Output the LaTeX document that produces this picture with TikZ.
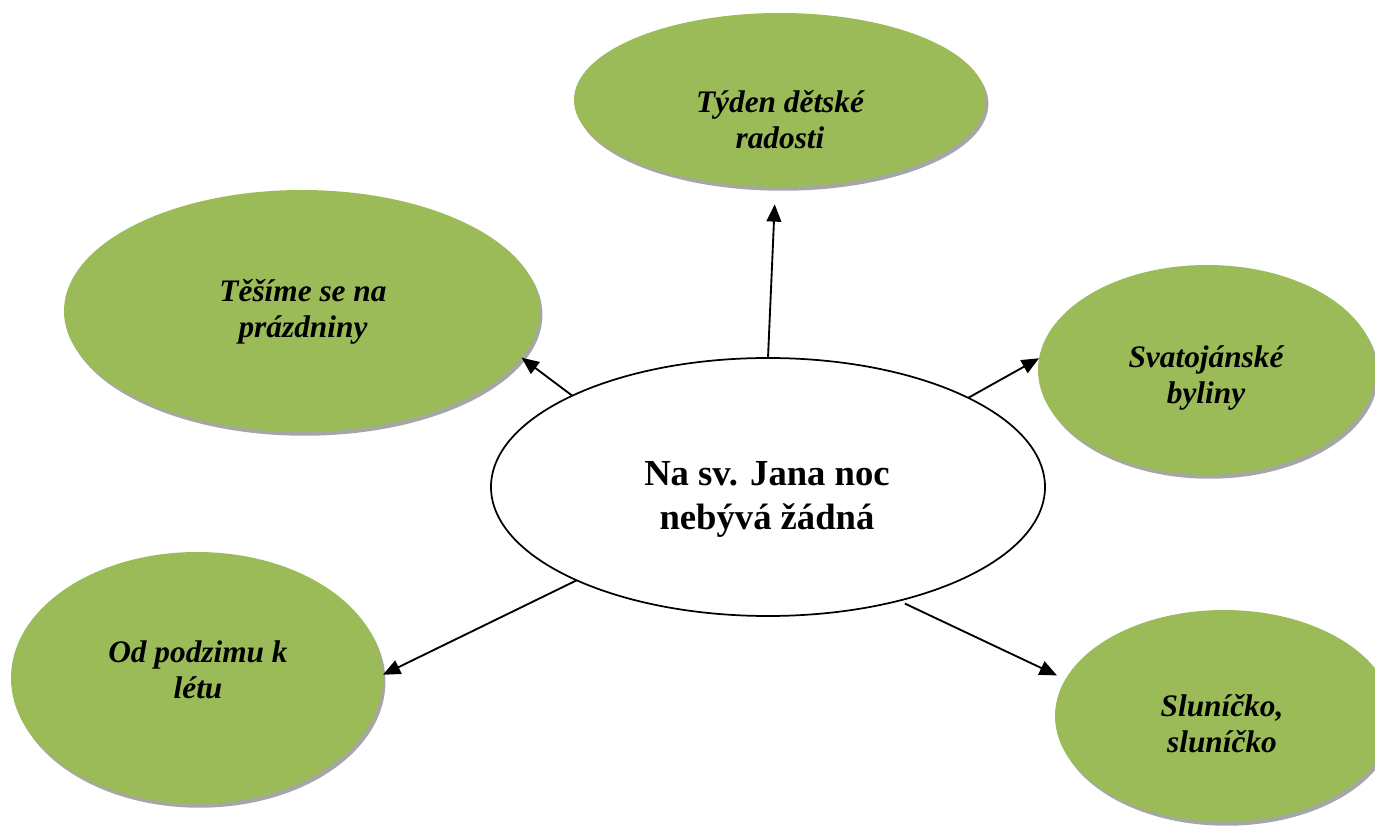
\documentclass[tikz,border=0pt]{standalone}
\usepackage{fontspec}
\setmainfont{Liberation Serif}
\usetikzlibrary{shapes.geometric,arrows.meta,shadows}
\newdimen\pu \pu=0.75pt
\definecolor{olivegreen}{HTML}{9BBB59}
\definecolor{shadowgrey}{HTML}{A6A6A6}
\tikzset{
  topic/.style={ellipse, fill=olivegreen, draw=none, inner sep=0pt, outer sep=0pt,
    drop shadow={shadow xshift=1.8pt, shadow yshift=-2.8pt, fill=shadowgrey, opacity=1}},
  hub/.style={ellipse, fill=white, draw=black, line width=1.3pt, inner sep=0pt, outer sep=0pt},
  topictext/.style={align=center, font=\fontsize{23.5}{27}\selectfont\bfseries\itshape},
  hubtext/.style={align=center, font=\fontsize{27.5}{33}\selectfont\bfseries},
  link/.style={line width=1.4pt, -{Triangle[length=13pt,width=11pt]}}
}
\begin{document}
\begin{tikzpicture}[x=0.75pt,y=-0.75pt]
\useasboundingbox (0,0) rectangle (1375,827);
% topic ellipses
\node[topic, minimum width=412\pu, minimum height=174\pu] (e1) at (780,100) {};
\node[topic, minimum width=476\pu, minimum height=242\pu] (e2) at (302,311) {};
\node[topic, minimum width=338\pu, minimum height=210\pu] (e3) at (1207,370) {};
\node[topic, minimum width=372\pu, minimum height=252\pu] (e4) at (197,678) {};
\node[topic, minimum width=338\pu, minimum height=212\pu] (e5) at (1224,716) {};
% central ellipse
\node[hub, minimum width=554\pu, minimum height=258\pu] (c) at (768,487) {};
% texts
\node[topictext] (t1) at (780,120) {Týden dětské\\radosti};
\node[topictext] (t2) at (303,311.5) {Těšíme se na\\prázdniny};
\node[topictext] (t3) at (1206,378) {Svatojánské\\byliny};
\node[topictext] (t4) at (198,670) {Od podzimu k\\létu};
\node[topictext] (t5) at (1222,724) {Sluníčko,\\sluníčko};
\node[hubtext] (tc) at (767,499) {Na sv. Jana noc\\nebývá žádná};
% connectors
\draw[link, shorten >=13pt] (c.90) -- (e1.-93.7);
\draw[link] (c.155.3) -- (e2.-12.6);
\draw[link] (c.24.8) -- (e3.176.6);
\draw[link] (c.206.7) -- (e4.1);
\draw[link, shorten <=5pt, shorten >=7pt] (c.-41.9) -- (e5.167.3);
\end{tikzpicture}
\end{document}
